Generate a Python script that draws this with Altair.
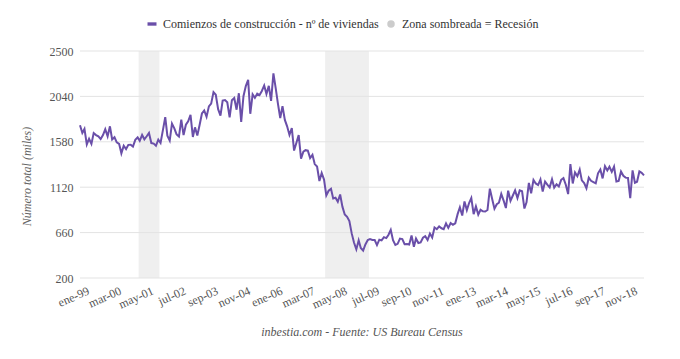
import altair as alt
import pandas as pd

# Housing starts (thousands, SAAR), monthly Jan-1999 .. Jun-2019
v1999 = [1748, 1670, 1710, 1553, 1611, 1559, 1669, 1648, 1635, 1608, 1648, 1708]
v2000 = [1636, 1737, 1604, 1626, 1575, 1559, 1463, 1541, 1507, 1549, 1551, 1532]
v2001 = [1600, 1625, 1590, 1649, 1605, 1636, 1670, 1567, 1562, 1540, 1602, 1568]
v2002 = [1698, 1829, 1642, 1592, 1764, 1717, 1655, 1633, 1804, 1648, 1753, 1788]
v2003 = [1853, 1629, 1726, 1643, 1751, 1867, 1897, 1833, 1939, 1967, 2083, 2057]
v2004 = [1911, 1846, 1998, 2003, 1981, 1828, 2002, 2024, 1905, 2072, 1782, 2042]
v2005 = [2144, 2207, 1864, 2061, 2025, 2068, 2054, 2095, 2151, 2065, 2147, 1994]
v2006 = [2273, 2119, 1969, 1821, 1942, 1802, 1737, 1650, 1720, 1491, 1570, 1649]
v2007 = [1409, 1480, 1495, 1490, 1415, 1448, 1354, 1330, 1183, 1264, 1197, 1037]
v2008 = [1084, 1103, 1005, 1013, 973, 1046, 923, 844, 820, 777, 652, 560]
v2009 = [490, 582, 505, 478, 540, 585, 594, 586, 585, 534, 588, 581]
v2010 = [614, 604, 636, 687, 583, 536, 546, 599, 594, 543, 545, 539]
v2011 = [630, 517, 600, 554, 561, 608, 623, 585, 650, 610, 711, 694]
v2012 = [723, 704, 695, 753, 708, 757, 740, 754, 847, 915, 833, 976]
v2013 = [888, 962, 1010, 847, 925, 842, 891, 876, 873, 889, 1105, 1003]
v2014 = [902, 948, 963, 1052, 987, 909, 1085, 982, 1036, 1088, 1010, 1088]
v2015 = [1079, 904, 967, 1164, 1059, 1194, 1158, 1142, 1198, 1076, 1177, 1146]
v2016 = [1118, 1201, 1116, 1150, 1127, 1195, 1212, 1145, 1050, 1355, 1158, 1269]
v2017 = [1231, 1298, 1189, 1162, 1109, 1216, 1185, 1172, 1159, 1261, 1299, 1209]
v2018 = [1334, 1290, 1327, 1276, 1329, 1177, 1184, 1280, 1236, 1217, 1214, 1010]
v2019 = [1290, 1165, 1175, 1280, 1265, 1240]

valores = (v1999 + v2000 + v2001 + v2002 + v2003 + v2004 + v2005 + v2006 + v2007
           + v2008 + v2009 + v2010 + v2011 + v2012 + v2013 + v2014 + v2015 + v2016
           + v2017 + v2018 + v2019)

# Recessions (months)
recesion_inicio = ["2001-03-01", "2007-12-01"]
recesion_fin = ["2001-11-01", "2009-06-01"]

# Axis
y_ticks = [200, 660, 1120, 1580, 2040, 2500]
x_labels = ["ene-99", "mar-00", "may-01", "jul-02", "sep-03", "nov-04", "ene-06",
            "mar-07", "may-08", "jul-09", "sep-10", "nov-11", "ene-13", "mar-14",
            "may-15", "jul-16", "sep-17", "nov-18"]

serie_nombre = "Comienzos de construcción - nº de viviendas"
recesion_nombre = "Zona sombreada = Recesión"

PURPLE = "#6a4fa9"
FONT = "Liberation Serif"

fechas = pd.date_range("1999-01-01", periods=len(valores), freq="MS")
df = pd.DataFrame({"fecha": fechas, "valor": valores})

rec = pd.DataFrame({
    "inicio": pd.to_datetime(recesion_inicio) - pd.Timedelta(days=15),
    "fin": pd.to_datetime(recesion_fin) + pd.Timedelta(days=15),
})
grid_df = pd.DataFrame({"valor": y_ticks})
leg_df = pd.DataFrame({"leyenda": [serie_nombre, recesion_nombre]})

x_tick_dates = [alt.DateTime(year=1999 + (i * 14) // 12, month=(i * 14) % 12 + 1, date=1)
                for i in range(len(x_labels))]
labels_js = "[" + ",".join("'%s'" % s for s in x_labels) + "]"
label_expr = labels_js + "[round(((year(datum.value)-1999)*12+month(datum.value))/14)]"

x_scale = alt.Scale(domain=[alt.DateTime(year=1999, month=1, date=1),
                            alt.DateTime(year=2019, month=6, date=1)])
y_scale = alt.Scale(domain=[200, 2500], nice=False, zero=False)

x_axis = alt.Axis(values=x_tick_dates, labelExpr=label_expr, grid=False,
                  domain=False, ticks=False, labelAngle=-24,
                  labelAlign="right", labelBaseline="top", labelPadding=7,
                  labelOffset=6, labelFont=FONT, labelFontSize=12,
                  labelColor="#555", labelOverlap=False, labelFlush=False,
                  title=None)
y_axis = alt.Axis(values=y_ticks, format="d", grid=False, domain=False, ticks=False,
                  labelPadding=7, labelFont=FONT, labelFontSize=12,
                  labelColor="#555", titleFont=FONT, titleFontSize=12,
                  titleFontStyle="italic", titleFontWeight="normal",
                  titleColor="#666", titleX=-54, titleY=125,
                  titleAngle=-90, titleBaseline="middle",
                  title="Número total (miles)")

bands = alt.Chart(rec).mark_rect(color="#efefef").encode(
    x=alt.X("inicio:T", scale=x_scale, axis=x_axis),
    x2="fin:T",
)

grid = alt.Chart(grid_df).mark_rule(color="#e3e3e3", strokeWidth=1).encode(
    y=alt.Y("valor:Q", scale=y_scale, axis=y_axis),
)

line = alt.Chart(df).mark_line(color=PURPLE, strokeWidth=2).encode(
    x=alt.X("fecha:T", scale=x_scale, axis=x_axis),
    y=alt.Y("valor:Q", scale=y_scale, axis=y_axis),
)

dash = "M-1.2,-0.45L1.2,-0.45L1.2,0.45L-1.2,0.45Z"
leg_params = dict(title=None, orient="none", legendX=66, legendY=-33,
                  direction="horizontal", columnPadding=6, symbolSize=56,
                  symbolStrokeWidth=0, labelFont=FONT, labelFontSize=12,
                  labelColor="#333", labelOffset=5, labelLimit=400)
legend_pts = alt.Chart(leg_df).mark_point(filled=True, opacity=1, clip=True).encode(
    x=alt.value(-1000),
    y=alt.value(-1000),
    color=alt.Color("leyenda:N",
                    scale=alt.Scale(domain=[serie_nombre, recesion_nombre],
                                    range=[PURPLE, "#cccccc"]),
                    legend=alt.Legend(**leg_params)),
    shape=alt.Shape("leyenda:N",
                    scale=alt.Scale(domain=[serie_nombre, recesion_nombre],
                                    range=[dash, "circle"]),
                    legend=alt.Legend(**leg_params)),
)

chart = alt.layer(bands, grid, line, legend_pts).properties(
    width=564,
    height=227,
    autosize=alt.AutoSizeParams(type="none"),
    padding={"left": 72, "top": 43, "right": 28, "bottom": 73},
    title=alt.TitleParams(
        text="inbestia.com - Fuente: US Bureau Census",
        orient="bottom", anchor="middle", font=FONT, fontSize=12,
        fontStyle="italic", fontWeight="normal", color="#555", offset=17,
    ),
).configure_view(stroke=None)

chart.save("out.html", embed_options={"renderer": "svg", "actions": False})
